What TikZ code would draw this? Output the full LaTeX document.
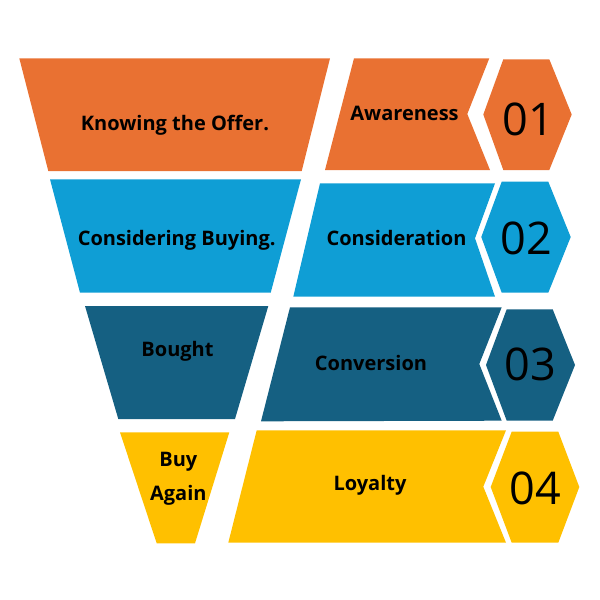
\documentclass[tikz,border=0pt]{standalone}
\usepackage{fontspec}
\setmainfont{Open Sans}
\definecolor{cOrange}{HTML}{E97132}
\definecolor{cBlue}{HTML}{0F9ED5}
\definecolor{cDark}{HTML}{156082}
\definecolor{cYellow}{HTML}{FFC000}
\begin{document}
\begin{tikzpicture}[x=1pt,y=-1pt,
  lbl/.style={font=\bfseries\fontsize{20}{33.3}\selectfont, text=black, inner sep=0pt, anchor=base, align=center},
  num/.style={font=\fontsize{45}{50}\selectfont, text=black, inner sep=0pt, anchor=base}]
\useasboundingbox (0,0) rectangle (600,600);
% Row 1
\fill[cOrange] (19.3,58.3) -- (330,58.3) -- (301.7,171) -- (48.3,171) -- cycle;
\fill[cOrange] (354,58.3) -- (489.3,58.3) -- (467.3,114) -- (490,170) -- (325,170) -- cycle;
\fill[cOrange] (503.3,59.3) -- (549.3,59.3) -- (571.7,114.5) -- (549.3,170) -- (503.3,170) -- (483.3,114.5) -- cycle;
% Row 2
\fill[cBlue] (50,179.3) -- (301,179.3) -- (270.7,292.7) -- (80,292.7) -- cycle;
\fill[cBlue] (320,183.3) -- (495,183.3) -- (475,238.3) -- (495,296.7) -- (293.3,296.7) -- cycle;
\fill[cBlue] (501.7,181.7) -- (548.3,181.7) -- (570.7,237) -- (548.3,292.7) -- (501.7,292.7) -- (481.3,237) -- cycle;
% Row 3
\fill[cDark] (85,306) -- (268.3,306) -- (235,419) -- (118.3,419) -- cycle;
\fill[cDark] (290,307.3) -- (501.7,307.3) -- (479.3,364) -- (501.7,420.7) -- (261,421.3) -- cycle;
\fill[cDark] (506.7,309.3) -- (552.7,309.3) -- (575,365) -- (552.7,420.7) -- (506.7,420.7) -- (486,365) -- cycle;
% Row 4
\fill[cYellow] (120,432.3) -- (229.3,432.3) -- (195,543.3) -- (156.7,543.3) -- cycle;
\fill[cYellow] (256.7,430.3) -- (506,430.3) -- (483.3,486.7) -- (506,542.7) -- (228.3,542.7) -- cycle;
\fill[cYellow] (511.7,431.7) -- (558.3,431.7) -- (579.3,487) -- (558.3,542.7) -- (511.7,542.7) -- (490.7,487) -- cycle;
% Texts
\node[lbl] (knowing) at (175,130) {Knowing the Offer.};
\node[lbl] (awareness) at (404.5,120) {Awareness};
\node[num] (n1) at (528,135) {01};
\node[lbl] (considering) at (176.7,245) {Considering Buying.};
\node[lbl] (consideration) at (396.5,245) {Consideration};
\node[num] (n2) at (526,254) {02};
\node[lbl] (bought) at (177.5,356.7) {Bought};
\node[lbl] (conversion) at (371,370) {Conversion};
\node[num] (n3) at (530.5,380) {03};
\node[lbl] (buyagain) at (178.3,500) {Buy\\Again};
\node[lbl] (loyalty) at (370,490) {Loyalty};
\node[num] (n4) at (535,504) {04};
\end{tikzpicture}
\end{document}
